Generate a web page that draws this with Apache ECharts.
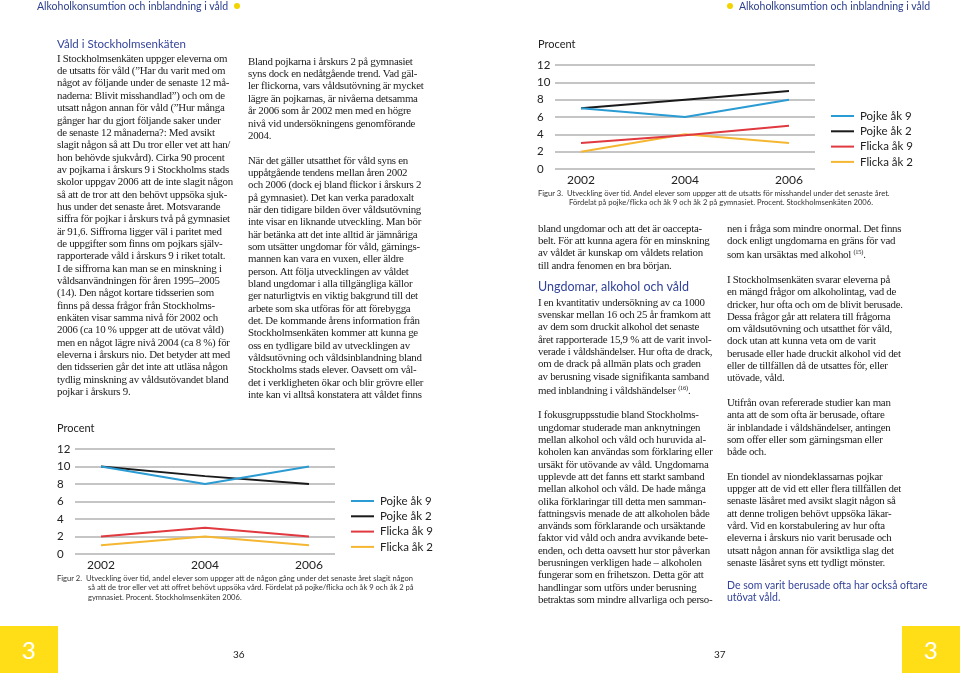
<!DOCTYPE html>
<html lang="sv">
<head>
<meta charset="utf-8">
<script src="https://cdn.jsdelivr.net/npm/echarts@6/dist/echarts.min.js"></script>
<style>
  html, body { margin:0; padding:0; background:#fff; }
  #page { position:relative; width:960px; height:673px; overflow:hidden; background:#fff; }
  #chart { position:absolute; left:0; top:0; width:960px; height:673px; }
  .t { position:absolute; white-space:nowrap; }
  .hdr { font-family:Lato, "Open Sans", sans-serif; font-size:10.5px; color:#2c3f8e; top:0; line-height:12px; }
  .dot { display:inline-block; width:6px; height:6px; border-radius:50%; background:#f4d400; vertical-align:middle; margin:0 6px; position:relative; top:-1px; }
  .body { font-family:"Liberation Serif", "DejaVu Serif", serif; font-size:10.9px; letter-spacing:-0.28px; color:#222; line-height:12.35px; }
  .h { font-family:Lato, "Open Sans", sans-serif; color:#34449a; }
  .sup { font-size:6.5px; vertical-align:4px; }
  .cap { font-family:Lato, "Open Sans", sans-serif; font-size:7.6px; color:#333; line-height:9.4px; }
  .cap .ind { display:inline-block; width:31px; }
  .procent { font-family:Lato, "Open Sans", sans-serif; font-size:11px; color:#222; }
  .box { position:absolute; background:#ffde17; width:58px; height:47px; top:626px; color:#fff; font-family:Lato, sans-serif; font-size:24px; line-height:47px; text-align:center; }
  .pn { font-family:Lato, sans-serif; font-size:10px; color:#222; }
</style>
</head>
<body>
<div id="page">
  <div id="chart"></div>

  <div class="t hdr" style="left:37px;">Alkoholkonsumtion och inblandning i våld<span class="dot"></span></div>
  <div class="t hdr" style="left:721px;"><span class="dot"></span>Alkoholkonsumtion och inblandning i våld</div>

  <div class="t h" style="left:57px; top:37px; font-size:11.5px; line-height:14px;">Våld i Stockholmsenkäten</div>
  <div class="t body" style="left:57px; top:51.8px;">I Stockholmsenkäten uppger eleverna om<br>de utsatts för våld (”Har du varit med om<br>något av följande under de senaste 12 må-<br>naderna: Blivit misshandlad”) och om de<br>utsatt någon annan för våld (”Hur många<br>gånger har du gjort följande saker under<br>de senaste 12 månaderna?: Med avsikt<br>slagit någon så att Du tror eller vet att han/<br>hon behövde sjukvård). Cirka 90 procent<br>av pojkarna i årskurs 9 i Stockholms stads<br>skolor uppgav 2006 att de inte slagit någon<br>så att de tror att den behövt uppsöka sjuk-<br>hus under det senaste året. Motsvarande<br>siffra för pojkar i årskurs två på gymnasiet<br>är 91,6. Siffrorna ligger väl i paritet med<br>de uppgifter som finns om pojkars själv-<br>rapporterade våld i årskurs 9 i riket totalt.<br>I de siffrorna kan man se en minskning i<br>våldsanvändningen för åren 1995–2005<br>(14). Den något kortare tidsserien som<br>finns på dessa frågor från Stockholms-<br>enkäten visar samma nivå för 2002 och<br>2006 (ca 10 % uppger att de utövat våld)<br>men en något lägre nivå 2004 (ca 8 %) för<br>eleverna i årskurs nio. Det betyder att med<br>den tidsserien går det inte att utläsa någon<br>tydlig minskning av våldsutövandet bland<br>pojkar i årskurs 9.</div>

  <div class="t body" style="left:248px; top:54.8px;">Bland pojkarna i årskurs 2 på gymnasiet<br>syns dock en nedåtgående trend. Vad gäl-<br>ler flickorna, vars våldsutövning är mycket<br>lägre än pojkarnas, är nivåerna detsamma<br>år 2006 som år 2002 men med en högre<br>nivå vid undersökningens genomförande<br>2004.<br>&nbsp;<br>När det gäller utsatthet för våld syns en<br>uppåtgående tendens mellan åren 2002<br>och 2006 (dock ej bland flickor i årskurs 2<br>på gymnasiet). Det kan verka paradoxalt<br>när den tidigare bilden över våldsutövning<br>inte visar en liknande utveckling. Man bör<br>här betänka att det inte alltid är jämnåriga<br>som utsätter ungdomar för våld, gärnings-<br>mannen kan vara en vuxen, eller äldre<br>person. Att följa utvecklingen av våldet<br>bland ungdomar i alla tillgängliga källor<br>ger naturligtvis en viktig bakgrund till det<br>arbete som ska utföras för att förebygga<br>det. De kommande årens information från<br>Stockholmsenkäten kommer att kunna ge<br>oss en tydligare bild av utvecklingen av<br>våldsutövning och våldsinblandning bland<br>Stockholms stads elever. Oavsett om vål-<br>det i verkligheten ökar och blir grövre eller<br>inte kan vi alltså konstatera att våldet finns</div>

  <div class="t body" style="left:538px; top:221.8px; line-height:12.3px;">bland ungdomar och att det är oaccepta-<br>belt. För att kunna agera för en minskning<br>av våldet är kunskap om våldets relation<br>till andra fenomen en bra början.</div>
  <div class="t h" style="left:538px; top:279px; font-size:12.5px; line-height:15px;">Ungdomar, alkohol och våld</div>
  <div class="t body" style="left:538px; top:295.8px; line-height:12.3px;">I en kvantitativ undersökning av ca 1000<br>svenskar mellan 16 och 25 år framkom att<br>av dem som druckit alkohol det senaste<br>året rapporterade 15,9 % att de varit invol-<br>verade i våldshändelser. Hur ofta de drack,<br>om de drack på allmän plats och graden<br>av berusning visade signifikanta samband<br>med inblandning i våldshändelser <span class="sup">(16)</span>.<br>&nbsp;<br>I fokusgruppsstudie bland Stockholms-<br>ungdomar studerade man anknytningen<br>mellan alkohol och våld och huruvida al-<br>koholen kan användas som förklaring eller<br>ursäkt för utövande av våld. Ungdomarna<br>upplevde att det fanns ett starkt samband<br>mellan alkohol och våld. De hade många<br>olika förklaringar till detta men samman-<br>fattningsvis menade de att alkoholen både<br>används som förklarande och ursäktande<br>faktor vid våld och andra avvikande bete-<br>enden, och detta oavsett hur stor påverkan<br>berusningen verkligen hade – alkoholen<br>fungerar som en frihetszon. Detta gör att<br>handlingar som utförs under berusning<br>betraktas som mindre allvarliga och perso-</div>

  <div class="t body" style="left:727px; top:221.8px; line-height:12.3px;">nen i fråga som mindre onormal. Det finns<br>dock enligt ungdomarna en gräns för vad<br>som kan ursäktas med alkohol <span class="sup">(15)</span>.<br>&nbsp;<br>I Stockholmsenkäten svarar eleverna på<br>en mängd frågor om alkoholintag, vad de<br>dricker, hur ofta och om de blivit berusade.<br>Dessa frågor går att relatera till frågorna<br>om våldsutövning och utsatthet för våld,<br>dock utan att kunna veta om de varit<br>berusade eller hade druckit alkohol vid det<br>eller de tillfällen då de utsattes för, eller<br>utövade, våld.<br>&nbsp;<br>Utifrån ovan refererade studier kan man<br>anta att de som ofta är berusade, oftare<br>är inblandade i våldshändelser, antingen<br>som offer eller som gärningsman eller<br>både och.<br>&nbsp;<br>En tiondel av niondeklassarnas pojkar<br>uppger att de vid ett eller flera tillfällen det<br>senaste läsåret med avsikt slagit någon så<br>att denne troligen behövt uppsöka läkar-<br>vård. Vid en korstabulering av hur ofta<br>eleverna i årskurs nio varit berusade och<br>utsatt någon annan för avsiktliga slag det<br>senaste läsåret syns ett tydligt mönster.</div>
  <div class="t h" style="left:727px; top:579px; font-size:10.5px; line-height:12px;">De som varit berusade ofta har också oftare<br>utövat våld.</div>

  <div class="t procent" style="left:57px; top:421px;">Procent</div>
  <div class="t procent" style="left:538px; top:37px;">Procent</div>

  <div class="t cap" style="left:57px; top:574px;">Figur 2.&nbsp;&nbsp;Utveckling över tid, andel elever som uppger att de någon gång under det senaste året slagit någon<br><span class="ind"></span>så att de tror eller vet att offret behövt uppsöka vård. Fördelat på pojke/flicka och åk 9 och åk 2 på<br><span class="ind"></span>gymnasiet. Procent. Stockholmsenkäten 2006.</div>
  <div class="t cap" style="left:538px; top:189px;">Figur 3.&nbsp;&nbsp;Utveckling över tid. Andel elever som uppger att de utsatts för misshandel under det senaste året.<br><span class="ind"></span>Fördelat på pojke/flicka och åk 9 och åk 2 på gymnasiet. Procent. Stockholmsenkäten 2006.</div>

  <div class="box" style="left:0;">3</div>
  <div class="box" style="left:902px;">3</div>
  <div class="t pn" style="left:233px; top:648px;">36</div>
  <div class="t pn" style="left:714px; top:648px;">37</div>
</div>

<script>
// ---- data ----
const years = [2002, 2004, 2006];
const seriesNames = ['Pojke åk 9', 'Pojke åk 2', 'Flicka åk 9', 'Flicka åk 2'];
const seriesColors = ['#2b9bd3', '#1a1a1a', '#e0393f', '#f5b731'];

// Figur 2: slagit någon (utövat våld)
const fig2PojkeAk9  = [10, 8, 10];
const fig2PojkeAk2  = [10, 8.9, 8];
const fig2FlickaAk9 = [2, 3, 2];
const fig2FlickaAk2 = [1, 2, 1];

// Figur 3: utsatts för misshandel
const fig3PojkeAk9  = [7, 6, 8];
const fig3PojkeAk2  = [7, 8, 9];
const fig3FlickaAk9 = [3, 3.9, 5];
const fig3FlickaAk2 = [2, 4, 3];

const yMin = 0, yMax = 12, yStep = 2;
const yearLabels = ['2002', '2004', '2006'];

const fig2 = [fig2PojkeAk9, fig2PojkeAk2, fig2FlickaAk9, fig2FlickaAk2];
const fig3 = [fig3PojkeAk9, fig3PojkeAk2, fig3FlickaAk9, fig3FlickaAk2];

const font = 'Lato, "Open Sans", sans-serif';

function xAxis(gridIndex) {
  return {
    type: 'value', gridIndex: gridIndex,
    min: 2001.5, max: 2006.5, interval: 0.5,
    axisLine: { show: false }, axisTick: { show: false }, splitLine: { show: false },
    axisLabel: {
      margin: 5, color: '#222', fontSize: 12, fontFamily: font,
      showMinLabel: true, showMaxLabel: true,
      formatter: function (v) { const s = String(v); return yearLabels.indexOf(s) >= 0 ? s : ''; }
    }
  };
}
function yAxis(gridIndex) {
  return {
    type: 'value', gridIndex: gridIndex,
    min: yMin, max: yMax, interval: yStep,
    axisLine: { show: false }, axisTick: { show: false },
    splitLine: { show: true, lineStyle: { color: '#b2b2b2', width: 1.5 } },
    axisLabel: { align: 'left', margin: 18, color: '#222', fontSize: 11.5, fontFamily: font }
  };
}
function makeSeries(data, gridIndex) {
  return data.map(function (vals, i) {
    return {
      name: seriesNames[i], type: 'line',
      xAxisIndex: gridIndex, yAxisIndex: gridIndex,
      data: years.map(function (y, j) { return [y, vals[j]]; }),
      symbol: 'none', silent: true,
      lineStyle: { color: seriesColors[i], width: 2 },
      itemStyle: { color: seriesColors[i] },
      z: 10 - i
    };
  });
}
function legend(left, top) {
  return {
    orient: 'vertical', left: left, top: top, padding: 0,
    itemWidth: 23, itemHeight: 14, itemGap: 3.3,
    selectedMode: false,
    data: seriesNames,
    itemStyle: { color: 'rgba(0,0,0,0)', borderWidth: 0, opacity: 0 },
    lineStyle: { width: 2 },
    textStyle: { color: '#222', fontSize: 11.5, fontFamily: font, padding: [0, 0, 0, 1] }
  };
}

const chart = echarts.init(document.getElementById('chart'), null, { renderer: 'canvas' });
chart.setOption({
  animation: false,
  backgroundColor: 'transparent',
  color: seriesColors,
  grid: [
    { left: 75, top: 449, width: 260, height: 105 },
    { left: 555, top: 65, width: 260, height: 104 }
  ],
  xAxis: [xAxis(0), xAxis(1)],
  yAxis: [yAxis(0), yAxis(1)],
  legend: [legend(350, 495), legend(830, 110)],
  series: makeSeries(fig2, 0).concat(makeSeries(fig3, 1))
});
</script>
</body>
</html>
